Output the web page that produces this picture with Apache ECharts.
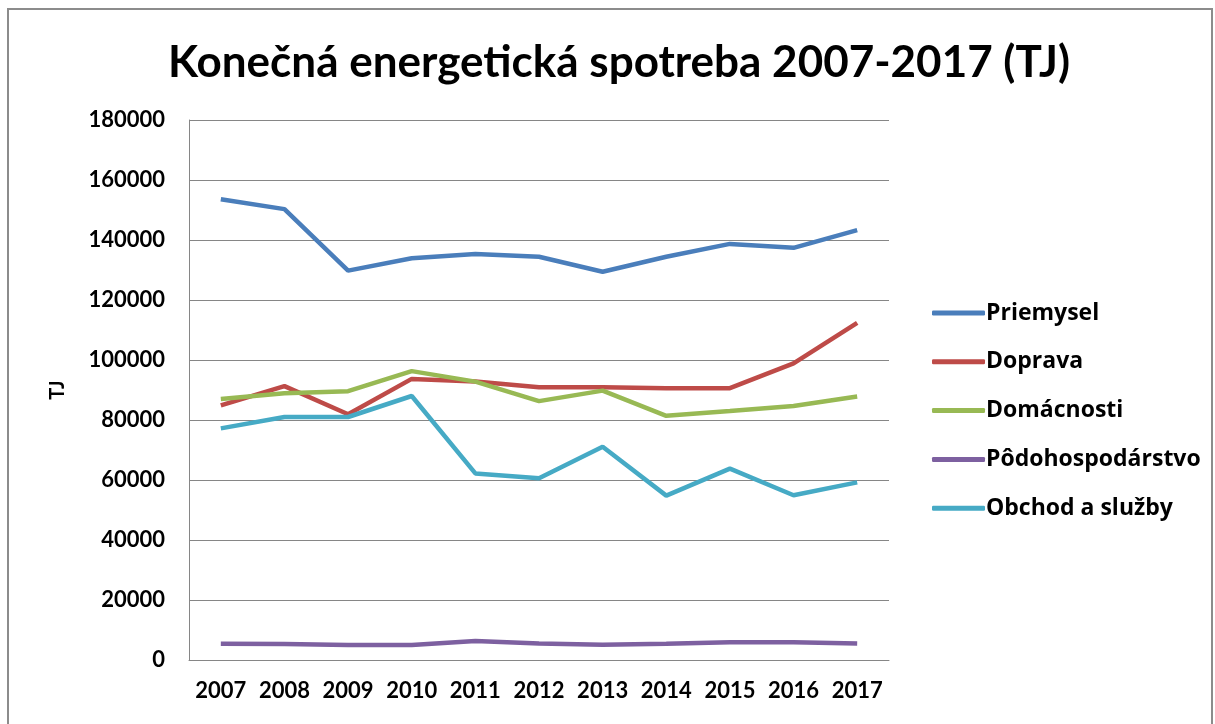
<!DOCTYPE html>
<html>
<head>
<meta charset="utf-8">
<script src="https://cdn.jsdelivr.net/npm/echarts@6/dist/echarts.min.js"></script>
<style>
  html, body { margin: 0; padding: 0; background: #fff; }
  #chart { width: 1215px; height: 724px; }
</style>
</head>
<body>
<div id="chart"></div>
<script>
const years = ['2007', '2008', '2009', '2010', '2011', '2012', '2013', '2014', '2015', '2016', '2017'];

const priemysel = [153600, 150300, 129800, 133900, 135300, 134400, 129400, 134400, 138700, 137400, 143300];
const doprava = [84900, 91300, 81900, 93700, 92800, 90900, 90900, 90600, 90600, 98900, 112400];
const domacnosti = [87000, 88900, 89600, 96300, 92800, 86300, 89800, 81400, 83000, 84700, 87800];
const podohospodarstvo = [5400, 5300, 5000, 5000, 6300, 5500, 5100, 5400, 5900, 5900, 5500];
const obchod = [77200, 81000, 81000, 88000, 62200, 60600, 71100, 54800, 63800, 54900, 59200];

const FONT = 'Lato';

const makeSeries = (name, data, color) => ({
  name: name,
  type: 'line',
  data: data,
  symbol: 'none',
  lineStyle: { width: 4.5, color: color },
  itemStyle: { color: color }
});

const chart = echarts.init(document.getElementById('chart'));
chart.setOption({
  animation: false,
  textStyle: { fontFamily: FONT },
  title: {
    text: 'Konečná energetická spotreba 2007-2017 (TJ)',
    left: 614,
    top: 36,
    textAlign: 'center',
    textStyle: { fontFamily: FONT, fontSize: 44, fontWeight: 'bold', color: '#000' }
  },
  graphic: [{
    type: 'rect',
    shape: { x: 8, y: 9, width: 1204, height: 760 },
    style: { fill: 'none', stroke: '#8c8c8c', lineWidth: 2 },
    silent: true
  }],
  legend: {
    orient: 'vertical',
    left: 927,
    top: 296,
    icon: 'roundRect',
    itemWidth: 53,
    itemHeight: 5,
    itemGap: 24.8,
    textStyle: { fontFamily: 'Open Sans', fontSize: 23, fontWeight: 'bold', color: '#000', lineHeight: 24, padding: [0, 0, 0, -4] },
    data: ['Priemysel', 'Doprava', 'Domácnosti', 'Pôdohospodárstvo', 'Obchod a služby']
  },
  grid: { left: 189, top: 120, width: 700, bottom: 64 },
  xAxis: {
    type: 'category',
    data: years,
    boundaryGap: true,
    axisLine: { lineStyle: { color: '#868686', width: 1 } },
    axisTick: { show: false },
    axisLabel: { interval: 0, hideOverlap: false, color: '#000', fontFamily: FONT, fontSize: 22, fontWeight: 'bold', margin: 20 }
  },
  yAxis: {
    type: 'value',
    min: 0,
    max: 180000,
    interval: 20000,
    name: 'TJ',
    nameLocation: 'center',
    nameRotate: 90,
    nameGap: 121,
    nameTextStyle: { color: '#000', fontFamily: FONT, fontSize: 20, fontWeight: 'bold' },
    axisLine: { show: true, lineStyle: { color: '#868686', width: 1 } },
    axisTick: { show: false },
    splitLine: { lineStyle: { color: '#868686', width: 1 } },
    axisLabel: { formatter: (v) => String(v), color: '#000', fontFamily: FONT, fontSize: 22, fontWeight: 'bold', margin: 24 }
  },
  series: [
    makeSeries('Priemysel', priemysel, '#4A7EBB'),
    makeSeries('Doprava', doprava, '#BE4B48'),
    makeSeries('Domácnosti', domacnosti, '#98B954'),
    makeSeries('Pôdohospodárstvo', podohospodarstvo, '#7D60A0'),
    makeSeries('Obchod a služby', obchod, '#46AAC5')
  ]
});
</script>
</body>
</html>
